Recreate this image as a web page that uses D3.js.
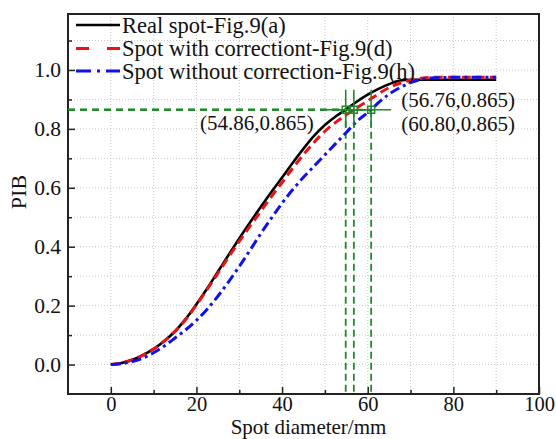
<!DOCTYPE html>
<html>
<head>
<meta charset="utf-8">
<script src="https://cdn.jsdelivr.net/npm/d3@7/dist/d3.min.js"></script>
<style>
  html, body { margin: 0; padding: 0; background: #fff; }
  svg { display: block; font-family: "Liberation Serif", "Times New Roman", serif; }
</style>
</head>
<body>
<svg id="chart" width="556" height="439"></svg>
<script>
// ---- data ----
const seriesNames = ["Real spot-Fig.9(a)", "Spot with correctiont-Fig.9(d)", "Spot without correction-Fig.9(h)"];

const realX = [0, 2.5, 5, 7.5, 10, 12.5, 15, 17.5, 20, 22.5, 25, 27.5, 30, 32.5, 35, 37.5, 40, 42.5, 45, 47.5, 50, 52.5, 54.86, 57.5, 60, 62.5, 65, 67.5, 70, 80, 90];
const realY = [0, 0.005, 0.016, 0.032, 0.053, 0.08, 0.113, 0.155, 0.205, 0.258, 0.315, 0.372, 0.428, 0.482, 0.535, 0.586, 0.635, 0.685, 0.733, 0.777, 0.813, 0.842, 0.865, 0.893, 0.916, 0.936, 0.952, 0.964, 0.967, 0.967, 0.967];

const corrX = [0, 2.5, 5, 7.5, 10, 12.5, 15, 17.5, 20, 22.5, 25, 27.5, 30, 32.5, 35, 37.5, 40, 42.5, 45, 47.5, 50, 52.5, 55, 56.76, 60, 62.5, 65, 67.5, 70, 72.5, 75, 80, 90];
const corrY = [0, 0.005, 0.016, 0.032, 0.053, 0.08, 0.112, 0.153, 0.203, 0.255, 0.31, 0.365, 0.418, 0.47, 0.52, 0.57, 0.618, 0.667, 0.713, 0.755, 0.792, 0.822, 0.848, 0.865, 0.895, 0.919, 0.94, 0.955, 0.965, 0.972, 0.975, 0.975, 0.975];

const uncX = [0, 2.5, 5, 7.5, 10, 12.5, 15, 17.5, 20, 22.5, 25, 27.5, 30, 32.5, 35, 37.5, 40, 42.5, 45, 47.5, 50, 52.5, 55, 57.5, 60.8, 62.5, 65, 67.5, 70, 72.5, 75, 80, 90];
const uncY = [0, 0.003, 0.01, 0.022, 0.04, 0.063, 0.09, 0.118, 0.15, 0.188, 0.232, 0.281, 0.333, 0.388, 0.444, 0.497, 0.548, 0.594, 0.636, 0.674, 0.712, 0.75, 0.788, 0.826, 0.865, 0.889, 0.918, 0.94, 0.957, 0.968, 0.973, 0.975, 0.975];

const markX = [54.86, 56.76, 60.80];
const markY = [0.865, 0.865, 0.865];
const markLabels = ["(54.86,0.865)", "(56.76,0.865)", "(60.80,0.865)"];

const xMajor = [0, 20, 40, 60, 80, 100];
const xMinor = [10, 30, 50, 70, 90];
const yMajor = [0.0, 0.2, 0.4, 0.6, 0.8, 1.0];
const yMinor = [0.1, 0.3, 0.5, 0.7, 0.9, 1.1];
const xGrid = [0, 10, 20, 30, 40, 50, 60, 70, 80, 90];
const yGrid = [0.0, 0.1, 0.2, 0.3, 0.4, 0.5, 0.6, 0.7, 0.8, 0.9, 1.0, 1.1];

// ---- layout ----
const svg = d3.select("#chart");
const FONT = "'Liberation Serif', 'Times New Roman', serif";
const L = 68, R = 539, T = 14, B = 394;
const x = d3.scaleLinear().domain([-10, 100]).range([L, R]);
const y = d3.scaleLinear().domain([-0.1, 1.19]).range([B, T]);

const green = "#22882a";

// grid
const grid = svg.append("g");
grid.selectAll("line.gx").data(xGrid).join("line")
  .attr("x1", d => x(d)).attr("x2", d => x(d)).attr("y1", T).attr("y2", B)
  .attr("stroke", "#c8c8c8").attr("stroke-width", 1).attr("stroke-dasharray", "1,2");
grid.selectAll("line.gy").data(yGrid).join("line")
  .attr("y1", d => y(d)).attr("y2", d => y(d)).attr("x1", L).attr("x2", R)
  .attr("stroke", "#c8c8c8").attr("stroke-width", 1).attr("stroke-dasharray", "1,2");

// axes (ticks inside)
const fmtY = d3.format(".1f");
const axB = svg.append("g").attr("transform", `translate(0,${B})`)
  .call(d3.axisBottom(x).tickValues(xMajor).tickSize(-7).tickPadding(2).tickFormat(d3.format("d")));
const axBm = svg.append("g").attr("transform", `translate(0,${B})`)
  .call(d3.axisBottom(x).tickValues(xMinor).tickSize(-4).tickFormat(""));
const axL = svg.append("g").attr("transform", `translate(${L},0)`)
  .call(d3.axisLeft(y).tickValues(yMajor).tickSize(-7).tickPadding(7).tickFormat(fmtY));
const axLm = svg.append("g").attr("transform", `translate(${L},0)`)
  .call(d3.axisLeft(y).tickValues(yMinor).tickSize(-4).tickFormat(""));
[axB, axBm, axL, axLm].forEach(a => {
  a.attr("font-family", FONT).attr("font-size", 21.5);
  a.select(".domain").remove();
  a.selectAll(".tick line").attr("stroke", "#222").attr("stroke-width", 1.5);
  a.selectAll(".tick text").attr("fill", "#111");
});
axB.attr("font-size", 20.5);

// frame
svg.append("rect").attr("x", L).attr("y", T).attr("width", R - L).attr("height", B - T)
  .attr("fill", "none").attr("stroke", "#222").attr("stroke-width", 2);

// green reference lines (dashed to axes)
const gref = svg.append("g");
markX.forEach((mx, i) => {
  const px = x(mx), py = y(markY[i]);
  gref.append("line").attr("x1", x(-10)).attr("x2", px).attr("y1", py).attr("y2", py)
    .attr("stroke", green).attr("stroke-width", 1.8).attr("stroke-dasharray", "7,5");
  gref.append("line").attr("x1", px).attr("x2", px).attr("y1", py).attr("y2", y(-0.1))
    .attr("stroke", green).attr("stroke-width", 1.8).attr("stroke-dasharray", "7,4");
});

// curves
const line = d3.line().x(d => x(d[0])).y(d => y(d[1])).curve(d3.curveMonotoneX);
const series = [
  { xs: realX, ys: realY, color: "#000", width: 2.6, dash: null },
  { xs: corrX, ys: corrY, color: "#ee1111", width: 3, dash: "9,5" },
  { xs: uncX, ys: uncY, color: "#1111ee", width: 3, dash: "10,4,3,4" }
];
series.forEach(s => {
  svg.append("path").datum(d3.zip(s.xs, s.ys)).attr("d", line)
    .attr("fill", "none").attr("stroke", s.color).attr("stroke-width", s.width)
    .attr("stroke-dasharray", s.dash);
});

// crosshairs and markers on top
markX.forEach((mx, i) => {
  const px = x(mx), py = y(markY[i]);
  svg.append("line").attr("x1", px - 20).attr("x2", px + 20).attr("y1", py).attr("y2", py)
    .attr("stroke", green).attr("stroke-width", 1.6);
  svg.append("line").attr("x1", px).attr("x2", px).attr("y1", py - 20).attr("y2", py + 18)
    .attr("stroke", green).attr("stroke-width", 1.6);
  svg.append("rect").attr("x", px - 3.5).attr("y", py - 3.5).attr("width", 7).attr("height", 7)
    .attr("fill", "none").attr("stroke", green).attr("stroke-width", 1.5);
});

// annotation labels
const labPos = [
  { ax: x(markX[0]) - 32, ay: y(markY[0]) + 20, anchor: "end" },
  { ax: x(markX[2]) + 30, ay: y(markY[1]) - 3, anchor: "start" },
  { ax: x(markX[2]) + 30, ay: y(markY[2]) + 21, anchor: "start" }
];
markLabels.forEach((t, i) => {
  svg.append("text").attr("x", labPos[i].ax).attr("y", labPos[i].ay)
    .attr("text-anchor", labPos[i].anchor).attr("fill", "#111")
    .style("font-size", "21px").text(t);
});

// legend
const leg = svg.append("g");
const legY = [25, 48.5, 71];
series.forEach((s, i) => {
  leg.append("line").attr("x1", 76).attr("x2", 120).attr("y1", legY[i]).attr("y2", legY[i])
    .attr("stroke", s.color).attr("stroke-width", s.width)
    .attr("stroke-dasharray", i === 1 ? "13,18" : (i === 2 ? "15,6,3,6" : null));
  leg.append("text").attr("x", 122).attr("y", legY[i] + 7.5).attr("fill", "#111")
    .style("font-size", "22.5px").text(seriesNames[i]);
});

// axis titles
svg.append("text").attr("x", (L + R) / 2 + 5).attr("y", 433.5).attr("text-anchor", "middle")
  .attr("fill", "#111").style("font-size", "21px").text("Spot diameter/mm");
svg.append("text").attr("transform", "translate(26,192) rotate(-90)").attr("text-anchor", "middle")
  .attr("fill", "#111").style("font-size", "22px").text("PIB");
</script>
</body>
</html>
